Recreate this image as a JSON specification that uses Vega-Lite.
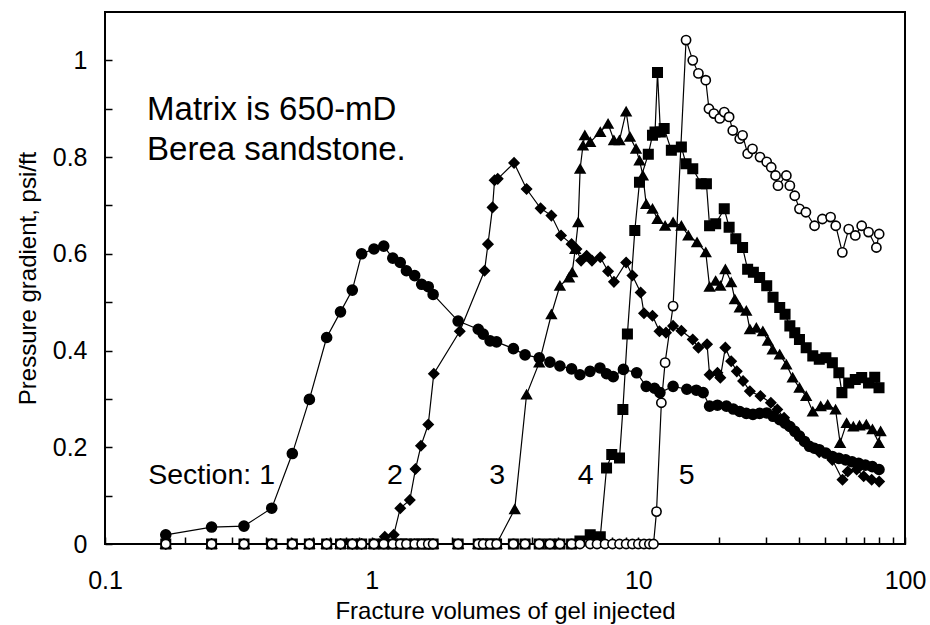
{
  "$schema": "https://vega.github.io/schema/vega-lite/v6.json",
  "autosize": "none",
  "width": 800,
  "height": 532,
  "padding": {"left": 105, "top": 12, "right": 25, "bottom": 81},
  "background": "white",
  "config": {
    "view": {"stroke": "black", "strokeWidth": 2},
    "font": "Liberation Sans"
  },
  "data": {"values": [
    {"s":"1","x":0.169,"y":0.019},{"s":"1","x":0.251,"y":0.035},{"s":"1","x":0.332,"y":0.037},{"s":"1","x":0.422,"y":0.074},
    {"s":"1","x":0.504,"y":0.187},{"s":"1","x":0.584,"y":0.299},{"s":"1","x":0.678,"y":0.427},{"s":"1","x":0.764,"y":0.48},
    {"s":"1","x":0.846,"y":0.525},{"s":"1","x":0.917,"y":0.6},{"s":"1","x":1.02,"y":0.61},{"s":"1","x":1.11,"y":0.616},
    {"s":"1","x":1.2,"y":0.591},{"s":"1","x":1.28,"y":0.582},{"s":"1","x":1.35,"y":0.565},{"s":"1","x":1.45,"y":0.555},
    {"s":"1","x":1.54,"y":0.537},{"s":"1","x":1.63,"y":0.532},{"s":"1","x":1.7,"y":0.516},{"s":"1","x":2.11,"y":0.461},
    {"s":"1","x":2.51,"y":0.444},{"s":"1","x":2.62,"y":0.434},{"s":"1","x":2.78,"y":0.42},{"s":"1","x":2.94,"y":0.418},
    {"s":"1","x":3.4,"y":0.404},{"s":"1","x":3.76,"y":0.391},{"s":"1","x":4.25,"y":0.385},{"s":"1","x":4.66,"y":0.376},
    {"s":"1","x":5.08,"y":0.368},{"s":"1","x":5.62,"y":0.362},{"s":"1","x":6.04,"y":0.35},{"s":"1","x":6.59,"y":0.357},
    {"s":"1","x":7.18,"y":0.364},{"s":"1","x":7.6,"y":0.352},{"s":"1","x":8.05,"y":0.346},{"s":"1","x":8.79,"y":0.361},
    {"s":"1","x":9.86,"y":0.354},{"s":"1","x":10.7,"y":0.326},{"s":"1","x":11.5,"y":0.322},{"s":"1","x":12.05,"y":0.313},
    {"s":"1","x":13.5,"y":0.326},{"s":"1","x":15.2,"y":0.32},{"s":"1","x":16.5,"y":0.318},{"s":"1","x":17.5,"y":0.313},
    {"s":"1","x":18.5,"y":0.285},{"s":"1","x":19.8,"y":0.287},{"s":"1","x":21.4,"y":0.285},{"s":"1","x":22.7,"y":0.279},
    {"s":"1","x":24.0,"y":0.274},{"s":"1","x":25.4,"y":0.27},{"s":"1","x":26.9,"y":0.268},{"s":"1","x":28.5,"y":0.27},
    {"s":"1","x":30.3,"y":0.271},{"s":"1","x":32.0,"y":0.264},{"s":"1","x":33.9,"y":0.257},{"s":"1","x":35.5,"y":0.25},
    {"s":"1","x":37.0,"y":0.243},{"s":"1","x":38.6,"y":0.233},{"s":"1","x":40.2,"y":0.223},{"s":"1","x":42.0,"y":0.212},
    {"s":"1","x":43.8,"y":0.202},{"s":"1","x":45.7,"y":0.198},{"s":"1","x":47.7,"y":0.195},{"s":"1","x":50.5,"y":0.188},
    {"s":"1","x":53.4,"y":0.181},{"s":"1","x":56.5,"y":0.177},{"s":"1","x":59.9,"y":0.174},{"s":"1","x":63.3,"y":0.17},
    {"s":"1","x":67.0,"y":0.167},{"s":"1","x":71.0,"y":0.163},{"s":"1","x":75.4,"y":0.16},{"s":"1","x":79.9,"y":0.154},

    {"s":"2","x":0.169,"y":0},{"s":"2","x":0.251,"y":0},{"s":"2","x":0.332,"y":0},{"s":"2","x":0.422,"y":0},
    {"s":"2","x":0.504,"y":0},{"s":"2","x":0.584,"y":0},{"s":"2","x":0.678,"y":0},{"s":"2","x":0.764,"y":0},
    {"s":"2","x":0.846,"y":0},{"s":"2","x":0.917,"y":0},{"s":"2","x":1.02,"y":0},{"s":"2","x":1.12,"y":0.015},
    {"s":"2","x":1.21,"y":0.019},{"s":"2","x":1.28,"y":0.074},{"s":"2","x":1.39,"y":0.091},{"s":"2","x":1.46,"y":0.155},
    {"s":"2","x":1.53,"y":0.203},{"s":"2","x":1.63,"y":0.247},{"s":"2","x":1.71,"y":0.352},{"s":"2","x":2.14,"y":0.44},
    {"s":"2","x":2.65,"y":0.565},{"s":"2","x":2.73,"y":0.62},{"s":"2","x":2.84,"y":0.696},{"s":"2","x":2.89,"y":0.752},
    {"s":"2","x":2.97,"y":0.755},{"s":"2","x":3.42,"y":0.788},{"s":"2","x":3.81,"y":0.734},{"s":"2","x":4.3,"y":0.694},
    {"s":"2","x":4.72,"y":0.679},{"s":"2","x":5.13,"y":0.638},{"s":"2","x":5.62,"y":0.62},{"s":"2","x":5.86,"y":0.61},
    {"s":"2","x":6.1,"y":0.586},{"s":"2","x":6.4,"y":0.596},{"s":"2","x":6.7,"y":0.586},{"s":"2","x":7.2,"y":0.593},
    {"s":"2","x":7.7,"y":0.564},{"s":"2","x":8.1,"y":0.542},{"s":"2","x":9.0,"y":0.582},{"s":"2","x":9.5,"y":0.555},
    {"s":"2","x":10.2,"y":0.52},{"s":"2","x":10.5,"y":0.477},{"s":"2","x":11.3,"y":0.472},{"s":"2","x":12.0,"y":0.44},
    {"s":"2","x":12.7,"y":0.437},{"s":"2","x":13.5,"y":0.451},{"s":"2","x":14.5,"y":0.441},{"s":"2","x":16.0,"y":0.423},
    {"s":"2","x":16.8,"y":0.406},{"s":"2","x":18.1,"y":0.413},{"s":"2","x":18.5,"y":0.35},{"s":"2","x":19.8,"y":0.354},
    {"s":"2","x":20.3,"y":0.344},{"s":"2","x":21.2,"y":0.406},{"s":"2","x":22.3,"y":0.378},{"s":"2","x":23.4,"y":0.357},
    {"s":"2","x":24.7,"y":0.337},{"s":"2","x":26.2,"y":0.316},{"s":"2","x":28.7,"y":0.306},{"s":"2","x":31.4,"y":0.292},
    {"s":"2","x":33.2,"y":0.278},{"s":"2","x":35.2,"y":0.261},{"s":"2","x":37.0,"y":0.243},{"s":"2","x":40.2,"y":0.223},
    {"s":"2","x":43.8,"y":0.202},{"s":"2","x":47.7,"y":0.19},{"s":"2","x":53.4,"y":0.174},{"s":"2","x":58.3,"y":0.133},
    {"s":"2","x":61.0,"y":0.15},{"s":"2","x":65.9,"y":0.154},{"s":"2","x":70.0,"y":0.14},{"s":"2","x":75.0,"y":0.133},
    {"s":"2","x":80.0,"y":0.129},

    {"s":"3","x":0.169,"y":0},{"s":"3","x":0.251,"y":0},{"s":"3","x":0.332,"y":0},{"s":"3","x":0.422,"y":0},
    {"s":"3","x":0.504,"y":0},{"s":"3","x":0.584,"y":0},{"s":"3","x":0.678,"y":0},{"s":"3","x":0.764,"y":0},
    {"s":"3","x":0.846,"y":0},{"s":"3","x":0.917,"y":0},{"s":"3","x":1.02,"y":0},{"s":"3","x":1.11,"y":0},
    {"s":"3","x":1.2,"y":0},{"s":"3","x":1.28,"y":0},{"s":"3","x":1.35,"y":0},{"s":"3","x":1.45,"y":0},
    {"s":"3","x":1.54,"y":0},{"s":"3","x":1.63,"y":0},{"s":"3","x":1.7,"y":0},{"s":"3","x":2.11,"y":0},
    {"s":"3","x":2.51,"y":0},{"s":"3","x":2.62,"y":0},{"s":"3","x":2.78,"y":0},{"s":"3","x":2.94,"y":0},
    {"s":"3","x":3.44,"y":0.072},{"s":"3","x":3.81,"y":0.309},{"s":"3","x":4.25,"y":0.375},{"s":"3","x":4.72,"y":0.475},
    {"s":"3","x":5.08,"y":0.534},{"s":"3","x":5.5,"y":0.551},{"s":"3","x":5.65,"y":0.562},{"s":"3","x":5.8,"y":0.61},
    {"s":"3","x":5.95,"y":0.665},{"s":"3","x":6.05,"y":0.776},{"s":"3","x":6.2,"y":0.824},{"s":"3","x":6.3,"y":0.845},
    {"s":"3","x":6.6,"y":0.831},{"s":"3","x":7.2,"y":0.852},{"s":"3","x":7.7,"y":0.869},{"s":"3","x":8.1,"y":0.835},
    {"s":"3","x":8.5,"y":0.835},{"s":"3","x":9.0,"y":0.894},{"s":"3","x":9.3,"y":0.842},{"s":"3","x":9.8,"y":0.817},
    {"s":"3","x":10.1,"y":0.793},{"s":"3","x":10.4,"y":0.762},{"s":"3","x":10.7,"y":0.703},{"s":"3","x":11.3,"y":0.693},
    {"s":"3","x":11.8,"y":0.672},{"s":"3","x":12.6,"y":0.658},{"s":"3","x":13.5,"y":0.665},{"s":"3","x":14.5,"y":0.658},
    {"s":"3","x":15.4,"y":0.638},{"s":"3","x":16.6,"y":0.624},{"s":"3","x":17.9,"y":0.603},{"s":"3","x":18.5,"y":0.532},
    {"s":"3","x":19.5,"y":0.544},{"s":"3","x":20.3,"y":0.534},{"s":"3","x":21.2,"y":0.568},{"s":"3","x":22.3,"y":0.541},
    {"s":"3","x":23.0,"y":0.506},{"s":"3","x":24.0,"y":0.489},{"s":"3","x":25.4,"y":0.482},{"s":"3","x":26.2,"y":0.444},
    {"s":"3","x":27.7,"y":0.447},{"s":"3","x":29.3,"y":0.44},{"s":"3","x":30.6,"y":0.42},{"s":"3","x":31.9,"y":0.402},
    {"s":"3","x":33.9,"y":0.392},{"s":"3","x":35.9,"y":0.371},{"s":"3","x":37.9,"y":0.344},{"s":"3","x":40.2,"y":0.323},
    {"s":"3","x":42.6,"y":0.306},{"s":"3","x":45.1,"y":0.274},{"s":"3","x":48.3,"y":0.285},{"s":"3","x":51.3,"y":0.288},
    {"s":"3","x":54.9,"y":0.278},{"s":"3","x":57.1,"y":0.209},{"s":"3","x":60.4,"y":0.25},{"s":"3","x":64.0,"y":0.243},
    {"s":"3","x":67.5,"y":0.245},{"s":"3","x":71.6,"y":0.247},{"s":"3","x":75.5,"y":0.237},{"s":"3","x":79.8,"y":0.209},
    {"s":"3","x":81.0,"y":0.233},

    {"s":"4","x":0.169,"y":0},{"s":"4","x":0.251,"y":0},{"s":"4","x":0.332,"y":0},{"s":"4","x":0.422,"y":0},
    {"s":"4","x":0.504,"y":0},{"s":"4","x":0.584,"y":0},{"s":"4","x":0.678,"y":0},{"s":"4","x":0.764,"y":0},
    {"s":"4","x":0.846,"y":0},{"s":"4","x":0.917,"y":0},{"s":"4","x":1.02,"y":0},{"s":"4","x":1.11,"y":0},
    {"s":"4","x":1.2,"y":0},{"s":"4","x":1.28,"y":0},{"s":"4","x":1.35,"y":0},{"s":"4","x":1.45,"y":0},
    {"s":"4","x":1.54,"y":0},{"s":"4","x":1.63,"y":0},{"s":"4","x":1.7,"y":0},{"s":"4","x":2.11,"y":0},
    {"s":"4","x":2.51,"y":0},{"s":"4","x":2.62,"y":0},{"s":"4","x":2.78,"y":0},{"s":"4","x":2.94,"y":0},
    {"s":"4","x":3.4,"y":0},{"s":"4","x":3.76,"y":0},{"s":"4","x":4.25,"y":0},{"s":"4","x":4.66,"y":0},
    {"s":"4","x":5.08,"y":0},{"s":"4","x":5.62,"y":0},{"s":"4","x":6.04,"y":0.006},{"s":"4","x":6.6,"y":0.019},
    {"s":"4","x":7.2,"y":0.015},{"s":"4","x":7.6,"y":0.157},{"s":"4","x":7.95,"y":0.185},{"s":"4","x":8.5,"y":0.178},
    {"s":"4","x":8.75,"y":0.278},{"s":"4","x":9.1,"y":0.434},{"s":"4","x":9.7,"y":0.648},{"s":"4","x":10.1,"y":0.748},
    {"s":"4","x":10.9,"y":0.806},{"s":"4","x":11.3,"y":0.845},{"s":"4","x":11.55,"y":0.852},{"s":"4","x":11.8,"y":0.975},
    {"s":"4","x":12.1,"y":0.852},{"s":"4","x":12.5,"y":0.859},{"s":"4","x":13.3,"y":0.814},{"s":"4","x":14.5,"y":0.821},
    {"s":"4","x":15.1,"y":0.786},{"s":"4","x":16.0,"y":0.776},{"s":"4","x":17.2,"y":0.745},{"s":"4","x":18.0,"y":0.745},
    {"s":"4","x":18.5,"y":0.658},{"s":"4","x":19.5,"y":0.662},{"s":"4","x":21.0,"y":0.693},{"s":"4","x":21.9,"y":0.655},
    {"s":"4","x":23.2,"y":0.631},{"s":"4","x":24.6,"y":0.613},{"s":"4","x":25.7,"y":0.568},{"s":"4","x":27.0,"y":0.562},
    {"s":"4","x":28.5,"y":0.551},{"s":"4","x":30.3,"y":0.534},{"s":"4","x":32.0,"y":0.51},{"s":"4","x":33.9,"y":0.489},
    {"s":"4","x":35.5,"y":0.475},{"s":"4","x":37.0,"y":0.451},{"s":"4","x":38.6,"y":0.437},{"s":"4","x":40.2,"y":0.423},
    {"s":"4","x":42.6,"y":0.406},{"s":"4","x":45.1,"y":0.389},{"s":"4","x":47.7,"y":0.382},{"s":"4","x":50.5,"y":0.385},
    {"s":"4","x":53.4,"y":0.375},{"s":"4","x":56.5,"y":0.354},{"s":"4","x":58.0,"y":0.313},{"s":"4","x":61.5,"y":0.333},
    {"s":"4","x":65.1,"y":0.34},{"s":"4","x":68.8,"y":0.344},{"s":"4","x":73.0,"y":0.333},{"s":"4","x":77.0,"y":0.345},
    {"s":"4","x":79.9,"y":0.323},

    {"s":"5","x":0.169,"y":0},{"s":"5","x":0.251,"y":0},{"s":"5","x":0.332,"y":0},{"s":"5","x":0.422,"y":0},
    {"s":"5","x":0.504,"y":0},{"s":"5","x":0.584,"y":0},{"s":"5","x":0.678,"y":0},{"s":"5","x":0.764,"y":0},
    {"s":"5","x":0.846,"y":0},{"s":"5","x":0.917,"y":0},{"s":"5","x":1.02,"y":0},{"s":"5","x":1.11,"y":0},
    {"s":"5","x":1.2,"y":0},{"s":"5","x":1.28,"y":0},{"s":"5","x":1.35,"y":0},{"s":"5","x":1.45,"y":0},
    {"s":"5","x":1.54,"y":0},{"s":"5","x":1.63,"y":0},{"s":"5","x":1.7,"y":0},{"s":"5","x":2.11,"y":0},
    {"s":"5","x":2.51,"y":0},{"s":"5","x":2.62,"y":0},{"s":"5","x":2.78,"y":0},{"s":"5","x":2.94,"y":0},
    {"s":"5","x":3.4,"y":0},{"s":"5","x":3.76,"y":0},{"s":"5","x":4.25,"y":0},{"s":"5","x":4.66,"y":0},
    {"s":"5","x":5.08,"y":0},{"s":"5","x":5.62,"y":0},{"s":"5","x":6.04,"y":0},{"s":"5","x":6.6,"y":0},
    {"s":"5","x":7.0,"y":0},{"s":"5","x":7.5,"y":0},{"s":"5","x":8.0,"y":0},{"s":"5","x":8.5,"y":0},
    {"s":"5","x":9.0,"y":0},{"s":"5","x":9.5,"y":0},{"s":"5","x":10.0,"y":0},{"s":"5","x":10.5,"y":0},
    {"s":"5","x":11.0,"y":0},{"s":"5","x":11.4,"y":0},{"s":"5","x":11.7,"y":0.067},{"s":"5","x":12.2,"y":0.292},
    {"s":"5","x":12.6,"y":0.375},{"s":"5","x":13.5,"y":0.492},{"s":"5","x":15.1,"y":1.042},{"s":"5","x":16.0,"y":1.0},
    {"s":"5","x":16.8,"y":0.973},{"s":"5","x":17.9,"y":0.959},{"s":"5","x":18.4,"y":0.9},{"s":"5","x":19.2,"y":0.89},
    {"s":"5","x":20.2,"y":0.88},{"s":"5","x":21.0,"y":0.893},{"s":"5","x":21.9,"y":0.883},{"s":"5","x":22.6,"y":0.855},
    {"s":"5","x":24.0,"y":0.838},{"s":"5","x":24.6,"y":0.845},{"s":"5","x":25.7,"y":0.807},{"s":"5","x":26.8,"y":0.817},
    {"s":"5","x":28.6,"y":0.8},{"s":"5","x":30.3,"y":0.79},{"s":"5","x":31.5,"y":0.779},{"s":"5","x":32.7,"y":0.762},
    {"s":"5","x":33.4,"y":0.741},{"s":"5","x":35.9,"y":0.762},{"s":"5","x":37.0,"y":0.741},{"s":"5","x":38.6,"y":0.72},
    {"s":"5","x":40.2,"y":0.693},{"s":"5","x":42.5,"y":0.686},{"s":"5","x":45.8,"y":0.658},{"s":"5","x":49.0,"y":0.672},
    {"s":"5","x":52.6,"y":0.676},{"s":"5","x":55.0,"y":0.658},{"s":"5","x":58.2,"y":0.603},{"s":"5","x":61.5,"y":0.651},
    {"s":"5","x":65.1,"y":0.638},{"s":"5","x":68.8,"y":0.658},{"s":"5","x":73.0,"y":0.645},{"s":"5","x":78.1,"y":0.613},
    {"s":"5","x":80.0,"y":0.641}
  ]},
  "encoding": {
    "x": {
      "field": "x", "type": "quantitative",
      "scale": {"type": "log", "domain": [0.1, 100]},
      "axis": {
        "title": "Fracture volumes of gel injected",
        "values": [0.1,0.2,0.3,0.4,0.5,0.6,0.7,0.8,0.9,1,2,3,4,5,6,7,8,9,10,20,30,40,50,60,70,80,90,100],
        "format": "~g",
        "labelExpr": "indexof([0.1,1,10,100], datum.value) >= 0 ? datum.label : ''",
        "offset": -7,
        "domain": false,
        "tickSize": 7, "tickWidth": 1.5, "tickColor": "black",
        "labelPadding": 24, "labelFontSize": 25, "labelColor": "black",
        "labelFlush": false, "labelOverlap": false, "labelBound": false,
        "titleFontSize": 24, "titleFontWeight": "normal", "titleColor": "black",
        "titleX": 400, "titleY": 74, "titleAlign": "center", "titleBaseline": "middle",
        "grid": false
      }
    },
    "y": {
      "field": "y", "type": "quantitative",
      "scale": {"domain": [0, 1.1], "nice": false},
      "axis": {
        "title": "Pressure gradient, psi/ft",
        "values": [0,0.1,0.2,0.3,0.4,0.5,0.6,0.7,0.8,0.9,1],
        "format": "~g",
        "labelExpr": "indexof([0,0.2,0.4,0.6,0.8,1], datum.value) >= 0 ? datum.label : ''",
        "offset": -7,
        "domain": false,
        "tickSize": 7, "tickWidth": 1.5, "tickColor": "black",
        "labelPadding": 18, "labelFontSize": 25, "labelColor": "black",
        "labelFlush": false, "labelOverlap": false, "labelBound": false,
        "titleFontSize": 24, "titleFontWeight": "normal", "titleColor": "black",
        "titleX": -84, "titleY": 266, "titleAlign": "center", "titleBaseline": "middle", "titleAngle": -90,
        "grid": false
      }
    }
  },
  "layer": [
    {
      "mark": {"type": "line", "color": "black", "strokeWidth": 1.2},
      "encoding": {"detail": {"field": "s", "type": "nominal"}}
    },
    {
      "mark": {"type": "point", "filled": true, "stroke": "black", "strokeWidth": 1.6, "opacity": 1},
      "encoding": {
        "shape": {"field": "s", "type": "nominal", "legend": null,
          "scale": {"domain": ["1","2","3","4","5"], "range": ["circle","diamond","triangle-up","square","circle"]}},
        "fill": {"field": "s", "type": "nominal", "legend": null,
          "scale": {"domain": ["1","2","3","4","5"], "range": ["black","black","black","black","white"]}},
        "size": {"field": "s", "type": "nominal", "legend": null,
          "scale": {"domain": ["1","2","3","4","5"], "range": [100, 85, 100, 85, 75]}}
      }
    },
    {
      "data": {"values": [
        {"t": "Matrix is 650-mD", "x": 0.1438, "y": 0.876},
        {"t": "Berea sandstone.", "x": 0.1438, "y": 0.793}
      ]},
      "mark": {"type": "text", "align": "left", "baseline": "alphabetic", "fontSize": 33, "color": "black"},
      "encoding": {"text": {"field": "t"}}
    },
    {
      "data": {"values": [
        {"t": "Section: 1", "x": 0.434, "y": 0.1245}
      ]},
      "mark": {"type": "text", "align": "right", "baseline": "alphabetic", "fontSize": 28.5, "color": "black"},
      "encoding": {"text": {"field": "t"}}
    },
    {
      "data": {"values": [
        {"t": "2", "x": 1.223, "y": 0.1245},
        {"t": "3", "x": 2.958, "y": 0.1245},
        {"t": "4", "x": 6.345, "y": 0.1245},
        {"t": "5", "x": 15.17, "y": 0.1245}
      ]},
      "mark": {"type": "text", "align": "center", "baseline": "alphabetic", "fontSize": 28.5, "color": "black"},
      "encoding": {"text": {"field": "t"}}
    }
  ]
}
